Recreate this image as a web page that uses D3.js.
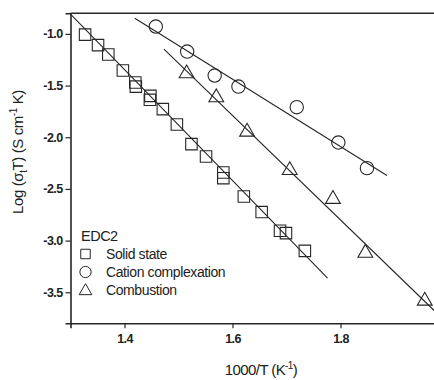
<!DOCTYPE html>
<html><head><meta charset="utf-8">
<script src="https://cdn.jsdelivr.net/npm/d3@7"></script>
<style>body{margin:0;background:#fff;} text{font-family:"Liberation Sans",Arial,sans-serif;fill:#222;}</style>
</head><body><svg id="c" width="434" height="380"></svg>
<script>
// Data
const solidX = [1.327,1.351,1.370,1.397,1.420,1.421,1.448,1.447,1.471,1.497,1.524,1.551,1.583,1.583,1.621,1.654,1.688,1.699,1.734];
const solidY = [-1.007,-1.109,-1.200,-1.355,-1.471,-1.510,-1.600,-1.638,-1.728,-1.877,-2.067,-2.187,-2.341,-2.396,-2.573,-2.724,-2.905,-2.928,-3.099];
const cationX = [1.458,1.516,1.567,1.611,1.719,1.796,1.849];
const cationY = [-0.929,-1.171,-1.403,-1.510,-1.709,-2.051,-2.299];
const combX = [1.515,1.570,1.627,1.706,1.786,1.846,1.956];
const combY = [-1.374,-1.606,-1.938,-2.310,-2.589,-3.110,-3.573];
// fitted lines (endpoints)
const solidFit = [[1.300,-0.81],[1.776,-3.363]];
const cationFit = [[1.419,-0.848],[1.886,-2.370]];
const combFit = [[1.473,-1.148],[1.990,-3.76]];
const xTicks = [1.4,1.6,1.8];
const yTicks = [-1.0,-1.5,-2.0,-2.5,-3.0,-3.5];
const legendTitle = "EDC2";
const seriesNames = ["Solid state","Cation complexation","Combustion"];

const svg = d3.select("#c");
const x = d3.scaleLinear().domain([1.3,2.0]).range([70.5,448.5]);
const y = d3.scaleLinear().domain([-3.8,-0.8]).range([323.3,13.2]);
const ink = "#262626";
const fmt = d => d3.format(".1f")(d).replace("\u2212","-");

svg.append("defs").append("clipPath").attr("id","clip")
  .append("rect").attr("x",70.5).attr("y",13).attr("width",380).attr("height",311);

// axes
const xa = svg.append("g").attr("transform","translate(0,323.3)")
  .call(d3.axisBottom(x).tickValues(xTicks).tickFormat(fmt).tickSize(5).tickPadding(6));
const ya = svg.append("g").attr("transform","translate(70.5,0)")
  .call(d3.axisLeft(y).tickValues(yTicks).tickFormat(fmt).tickSize(5).tickPadding(3));
[xa,ya].forEach(a=>{
  a.select(".domain").attr("stroke",ink).attr("stroke-width",1.6);
  a.selectAll(".tick line").attr("stroke",ink).attr("stroke-width",1.2);
  a.selectAll(".tick text").attr("fill","#222").style("font-size","12.5px").style("font-family","Liberation Sans, Arial, sans-serif").style("font-weight","bold").style("letter-spacing","-0.6px");
});
// top border
svg.append("line").attr("x1",x(1.3)).attr("x2",434).attr("y1",y(-0.8)).attr("y2",y(-0.8)).attr("stroke",ink).attr("stroke-width",1.6);

const plot = svg.append("g").attr("clip-path","url(#clip)");
const line = d3.line().x(d=>x(d[0])).y(d=>y(d[1]));
[solidFit,cationFit,combFit].forEach(f=>{
  plot.append("path").attr("d",line(f)).attr("fill","none").attr("stroke",ink).attr("stroke-width",1.1);
});

const sym = {
  square: d3.symbol().type(d3.symbolSquare),
  circle: d3.symbol().type(d3.symbolCircle),
  triangle: d3.symbol().type(d3.symbolTriangle)
};
function drawPts(xs,ys,type,size){
  plot.append("g").selectAll("path").data(xs.map((v,i)=>[v,ys[i]])).join("path")
    .attr("d",sym[type].size(size)())
    .attr("transform",d=>`translate(${x(d[0])},${y(d[1])+(type==="triangle"?1:0)})`)
    .attr("fill","none").attr("stroke",ink).attr("stroke-width",1.1);
}
drawPts(solidX,solidY,"square",132);
drawPts(cationX,cationY,"circle",140);
drawPts(combX,combY,"triangle",95);

// legend
const lg = svg.append("g");
lg.append("text").attr("x",81).attr("y",241).style("font-size","14.5px").style("letter-spacing","-0.5px").text(legendTitle);
const ltypes = ["square","circle","triangle"];
const lsize = [90,100,70];
seriesNames.forEach((n,i)=>{
  const cy = 254 + i*18;
  lg.append("path").attr("d",sym[ltypes[i]].size(lsize[i])())
    .attr("transform",`translate(85.5,${cy+(i===2?1:0)})`).attr("fill","none").attr("stroke",ink).attr("stroke-width",1);
  lg.append("text").attr("x",106).attr("y",cy+5).style("font-size","14px").style("letter-spacing","-0.4px").text(n);
});

// x title
const xt = svg.append("text").attr("x",261).attr("y",375).attr("text-anchor","middle").style("font-size","15px").style("letter-spacing","-0.6px");
xt.append("tspan").text("1000/T (K");
xt.append("tspan").attr("dy",-6).style("font-size","10px").text("-1");
xt.append("tspan").attr("dy",6).text(")");

// y title
const yt = svg.append("text").attr("transform","translate(23,152) rotate(-90)").attr("text-anchor","middle").style("font-size","15px").style("letter-spacing","-0.4px");
yt.append("tspan").text("Log (σ");
yt.append("tspan").attr("dy",4).style("font-size","10px").text("t");
yt.append("tspan").attr("dy",-4).text("T) (S cm");
yt.append("tspan").attr("dy",-6).style("font-size","10px").text("-1");
yt.append("tspan").attr("dy",6).text(" K)");
</script></body></html>
